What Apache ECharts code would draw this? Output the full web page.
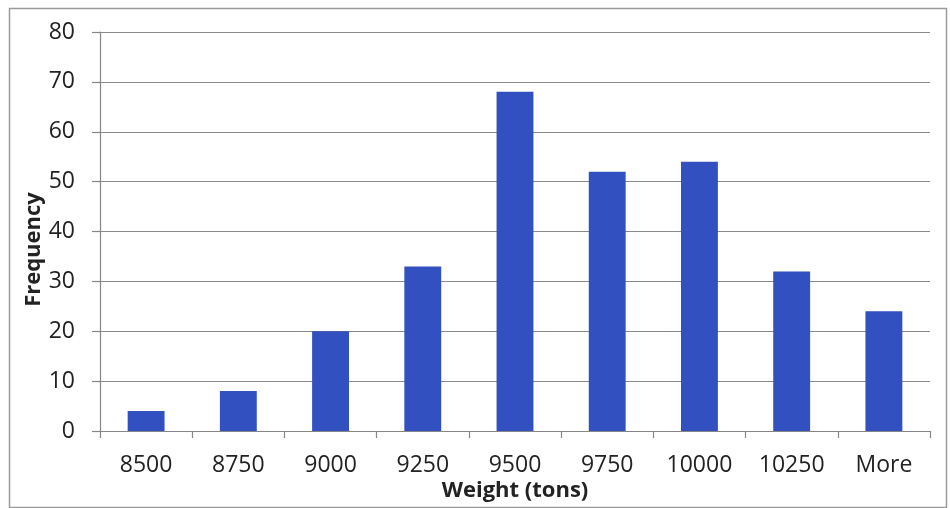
<!DOCTYPE html>
<html>
<head>
<meta charset="utf-8">
<script src="https://cdn.jsdelivr.net/npm/echarts@6/dist/echarts.min.js"></script>
<style>html,body{margin:0;padding:0;background:#fff;}#c{width:950px;height:508px;}</style>
</head>
<body>
<div id="c"></div>
<script>
const categories = ['8500','8750','9000','9250','9500','9750','10000','10250','More'];
const frequency = [4, 8, 20, 33, 68, 52, 54, 32, 24];
const yTicks = {min: 0, max: 80, interval: 10};
const xName = 'Weight (tons)';
const yName = 'Frequency';

const font = '"Open Sans", "Liberation Sans", sans-serif';
const chart = echarts.init(document.getElementById('c'));
chart.setOption({
  animation: false,
  backgroundColor: '#fff',
  graphic: [{
    type: 'rect', left: 7, top: 6,
    shape: {width: 937, height: 499},
    style: {fill: 'none', stroke: '#9a9a9a', lineWidth: 1.5}
  }],
  grid: {left: 100, right: 20, top: 32, bottom: 77},
  xAxis: {
    type: 'category',
    data: categories,
    name: xName,
    nameLocation: 'middle',
    nameGap: 49,
    nameMoveOverlap: false,
    nameTextStyle: {fontFamily: font, fontWeight: 'bold', fontSize: 22, color: '#222'},
    axisLine: {lineStyle: {color: '#868686', width: 1.2}},
    axisTick: {show: true, length: 7, lineStyle: {color: '#868686', width: 1.2}},
    axisLabel: {fontFamily: font, fontSize: 23, color: '#222', margin: 23}
  },
  yAxis: {
    type: 'value',
    min: yTicks.min, max: yTicks.max, interval: yTicks.interval,
    name: yName,
    nameLocation: 'middle',
    nameGap: 55,
    nameMoveOverlap: false,
    nameTextStyle: {fontFamily: font, fontWeight: 'bold', fontSize: 22, color: '#222', padding: [0, 36, 0, 0]},
    axisLine: {show: true, lineStyle: {color: '#868686', width: 1.2}},
    axisTick: {show: true, length: 8, lineStyle: {color: '#868686', width: 1.2}},
    axisLabel: {fontFamily: font, fontSize: 23, color: '#222', margin: 25},
    splitLine: {lineStyle: {color: '#8a8a8a', width: 1.2}}
  },
  series: [{
    type: 'bar',
    data: frequency,
    barCategoryGap: '60%',
    itemStyle: {color: '#3250c0'}
  }]
});
</script>
</body>
</html>
